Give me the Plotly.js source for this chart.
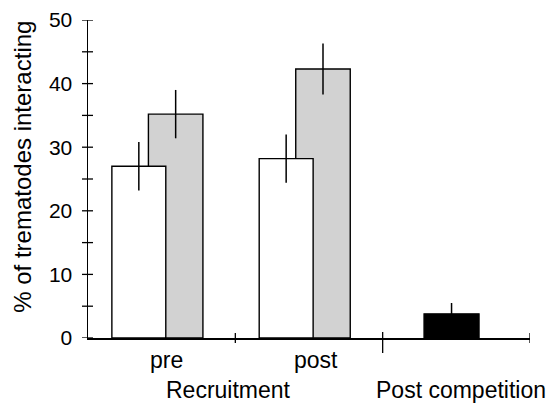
<!DOCTYPE html>
<html>
<head>
<meta charset="utf-8">
<script src="https://cdn.plot.ly/plotly-3.0.1.min.js"></script>
<style>
  html, body { margin: 0; padding: 0; background: #ffffff; }
  #chart { width: 550px; height: 405px; }
</style>
</head>
<body>
<div id="chart"></div>
<script>
// ---- data ----
var categories = ["pre", "post", "Post competition"];
var groupLabels = ["Recruitment", "Post competition"];
var yTitle = "% of trematodes interacting";

var recruitCats = ["pre", "post"];
var whiteValues = [27.0, 28.2];
var whiteErrors = [3.8, 3.8];
var grayValues = [35.2, 42.3];
var grayErrors = [3.8, 4.0];

var compCats = ["Post competition"];
var blackValues = [3.8];
var blackErrors = [1.7];

var yTickValues = [0, 5, 10, 15, 20, 25, 30, 35, 40, 45, 50];

// ---- chart ----
var FONT = "Liberation Sans, Arial, Helvetica, sans-serif";
var errStyle = function (arr) {
  return { type: "data", array: arr, visible: true, color: "#000", thickness: 1.5, width: 0 };
};

var traces = [
  {
    type: "bar", x: recruitCats, y: grayValues, name: "gray",
    offset: -0.09, width: 0.37,
    marker: { color: "#d2d2d2", line: { color: "#000", width: 1.4 } },
    error_y: errStyle(grayErrors)
  },
  {
    type: "bar", x: recruitCats, y: whiteValues, name: "white",
    offset: -0.338, width: 0.366,
    marker: { color: "#ffffff", line: { color: "#000", width: 1.4 } },
    error_y: errStyle(whiteErrors)
  },
  {
    type: "bar", x: compCats, y: blackValues, name: "black",
    offset: -0.219, width: 0.373,
    marker: { color: "#000000", line: { color: "#000", width: 1.4 } },
    error_y: errStyle(blackErrors)
  }
];

var tickLine = { color: "#000", width: 1.3 };
var shapes = [
  { type: "line", xref: "x", yref: "paper", ysizemode: "pixel", yanchor: 0, x0: 0.5, x1: 0.5, y0: -5, y1: 5, line: tickLine },
  { type: "line", xref: "x", yref: "paper", ysizemode: "pixel", yanchor: 0, x0: 1.5, x1: 1.5, y0: -15, y1: 6, line: tickLine },
  { type: "line", xref: "x", yref: "paper", ysizemode: "pixel", yanchor: 0, x0: 2.5, x1: 2.5, y0: -5, y1: 5, line: tickLine }
];
// crossing tick marks on the y axis
yTickValues.forEach(function (v) {
  shapes.push({ type: "line", xref: "paper", yref: "y", xsizemode: "pixel", xanchor: 0,
    x0: -6, x1: 5, y0: v, y1: v, line: tickLine });
});

var layout = {
  width: 550, height: 405,
  margin: { l: 88, r: 20, t: 20, b: 67, pad: 0 },
  paper_bgcolor: "#ffffff", plot_bgcolor: "#ffffff",
  showlegend: false,
  barmode: "overlay",
  font: { family: FONT, color: "#000", size: 22 },
  xaxis: {
    type: "category", categoryorder: "array", categoryarray: categories,
    range: [-0.5, 2.5], showline: true, linecolor: "#000", linewidth: 1.5,
    ticks: "", showticklabels: false, showgrid: false, zeroline: false, fixedrange: true
  },
  yaxis: {
    range: [0, 50], dtick: 10, tick0: 0, ticks: "outside", ticklen: 10, tickwidth: 1, tickcolor: "rgba(0,0,0,0)",
    showline: true, linecolor: "#000", linewidth: 1.5,
    tickfont: { size: 21, family: FONT },
    showgrid: false, zeroline: false, fixedrange: true
  },
  shapes: shapes,
  annotations: [
    { text: recruitCats[0], xref: "x", yref: "paper", x: 0, y: 0, xanchor: "center", yanchor: "top", xshift: 4.5, yshift: -7, showarrow: false, font: { size: 23 } },
    { text: recruitCats[1], xref: "x", yref: "paper", x: 1, y: 0, xanchor: "center", yanchor: "top", xshift: 6.5, yshift: -7, showarrow: false, font: { size: 23 } },
    { text: groupLabels[0], xref: "x", yref: "paper", x: 0.5, y: 0, xanchor: "center", yanchor: "top", xshift: -7, yshift: -37, showarrow: false, font: { size: 23 } },
    { text: groupLabels[1], xref: "x", yref: "paper", x: 2, y: 0, xanchor: "center", yanchor: "top", xshift: 4.5, yshift: -37, showarrow: false, font: { size: 23 } },
    { text: yTitle, xref: "paper", yref: "paper", x: -0.149, y: 0.539, xanchor: "center", yanchor: "middle", textangle: -90, showarrow: false, font: { size: 24 } }
  ]
};

Plotly.newPlot("chart", traces, layout, { displayModeBar: false, staticPlot: true });
</script>
</body>
</html>
